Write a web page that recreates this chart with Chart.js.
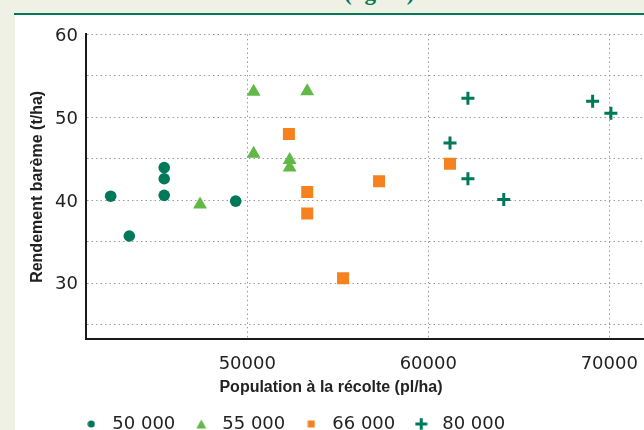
<!DOCTYPE html>
<html>
<head>
<meta charset="utf-8">
<script src="https://cdn.jsdelivr.net/npm/chart.js@4"></script>
<style>
  html, body { margin: 0; padding: 0; }
  body { width: 644px; height: 430px; overflow: hidden; background: #f0f1e5; position: relative; }
  #panel { position: absolute; left: 15px; top: 15px; width: 629px; height: 415px; background: #fff; }
  #rule { position: absolute; left: 14px; top: 13px; width: 630px; height: 2px; background: #00785a; }
  #cut { position: absolute; left: 0; top: 0; width: 644px; height: 12px; overflow: hidden; }
  #cut span { position: absolute; left: 344px; top: -20px; line-height: 24px; font: bold 23px 'Liberation Serif'; color: #00785a; white-space: nowrap; }
  #wrap { position: absolute; left: 0; top: 0; }
</style>
</head>
<body>
<div id="panel"></div>
<div id="cut"><span>(kg/ha)</span></div>
<div id="rule"></div>
<div id="wrap"><canvas id="chart-yield" width="644" height="450"></canvas></div>
<script>
// series names (target sowing density)
const seriesLabels = ['50 000', '55 000', '66 000', '80 000'];

// harvest population (pl/ha) and yield (t/ha) per series
const pop50 = [42450, 43480, 45410, 45410, 45410, 49360];
const yld50 = [40.5, 35.7, 43.95, 42.6, 40.6, 39.9];

const pop55 = [47390, 50350, 50350, 53310, 52340, 52340];
const yld55 = [39.5, 45.6, 53.1, 53.15, 44.85, 43.95];

const pop66 = [52300, 53310, 53310, 57280, 55290, 61200];
const yld66 = [48.0, 41.0, 38.4, 42.3, 30.6, 44.4];

const pop80 = [62190, 69080, 70090, 61200, 62190, 64170];
const yld80 = [52.3, 51.95, 50.5, 46.9, 42.6, 40.1];

// axis ticks
const xTicks = [50000, 60000, 70000];
const yTicks = [25, 30, 35, 40, 45, 50, 55, 60];
const yLabelled = [30, 40, 50, 60];

const teal = '#00785a';
const green = '#62b847';
const orange = '#f5821f';

function toPoints(xs, ys) {
  return xs.map((x, i) => ({ x: x, y: ys[i] }));
}

// small legend markers, each drawn at its own size
function marker(kind, color) {
  const c = document.createElement('canvas');
  const s = kind === 'cross' ? 13 : (kind === 'triangle' ? 11 : 8);
  c.width = s; c.height = s;
  const g = c.getContext('2d');
  g.fillStyle = color; g.strokeStyle = color;
  if (kind === 'circle') {
    g.beginPath(); g.arc(4, 4, 3.6, 0, Math.PI * 2); g.fill();
  } else if (kind === 'triangle') {
    g.beginPath(); g.moveTo(5.5, 1); g.lineTo(10.5, 10); g.lineTo(0.5, 10); g.closePath(); g.fill();
  } else if (kind === 'rect') {
    g.fillRect(0.5, 0.5, 7, 7);
  } else {
    g.lineWidth = 3;
    g.beginPath(); g.moveTo(0.5, 6.5); g.lineTo(12.5, 6.5); g.moveTo(6.5, 0.5); g.lineTo(6.5, 12.5); g.stroke();
  }
  return c;
}
const legendMarks = [marker('circle', teal), marker('triangle', green), marker('rect', orange), marker('cross', teal)];

// move the x title and the legend to where the original has them
const placeBoxes = {
  id: 'placeBoxes',
  afterLayout(chart) {
    const t = chart.titleBlock;
    const shift = 331 - (t.left + t.right) / 2;
    t.left += shift; t.right += shift;
    t.top = 378.2; t.bottom = t.top + t.height;
    const lg = chart.legend;
    lg.left = 65.3; lg.top = 401; lg.bottom = lg.top + lg.height;
  }
};

const tickFont = { family: 'DejaVu Sans', size: 18 };
const titleFont = { family: 'Liberation Sans', size: 16, weight: 'bold' };

new Chart(document.getElementById('chart-yield'), {
  type: 'scatter',
  data: {
    datasets: [
      { label: seriesLabels[0], data: toPoints(pop50, yld50), pointStyle: 'circle', pointRadius: 5.8,
        backgroundColor: teal, borderColor: teal, borderWidth: 0 },
      { label: seriesLabels[1], data: toPoints(pop55, yld55), pointStyle: 'triangle', pointRadius: 8,
        backgroundColor: green, borderColor: green, borderWidth: 0 },
      { label: seriesLabels[2], data: toPoints(pop66, yld66), pointStyle: 'rect', pointRadius: 8.5,
        backgroundColor: orange, borderColor: orange, borderWidth: 0 },
      { label: seriesLabels[3], data: toPoints(pop80, yld80), pointStyle: 'cross', pointRadius: 6.5,
        backgroundColor: teal, borderColor: teal, borderWidth: 3 }
    ]
  },
  options: {
    responsive: false,
    animation: false,
    layout: { autoPadding: false, padding: { left: 27.9, top: 34.4, right: 0, bottom: 13.4 } },
    scales: {
      x: {
        type: 'linear',
        min: 41088,
        max: 71919,
        afterBuildTicks: axis => { axis.ticks = xTicks.map(v => ({ value: v })); },
        ticks: { font: tickFont, color: '#222', padding: 0, maxRotation: 0, callback: v => String(v) },
        grid: { color: '#9a9a9a', lineWidth: 1, drawTicks: true, tickLength: 14.5, tickColor: 'transparent' },
        border: { color: '#1a1a1a', width: 2, dash: [1.5, 3] }
      },
      y: {
        min: 23.25,
        max: 60,
        afterBuildTicks: axis => { axis.ticks = yTicks.map(v => ({ value: v })); },
        ticks: { font: tickFont, color: '#222', padding: 8, labelOffset: 1.5,
          callback: v => yLabelled.includes(v) ? String(v) : '' },
        grid: { color: '#9a9a9a', lineWidth: 1, drawTicks: false },
        border: { color: '#1a1a1a', width: 2, dash: [1.5, 3] },
        title: { display: true, text: 'Rendement barème (t/ha)', font: titleFont, color: '#222', padding: 0 }
      }
    },
    plugins: {
      tooltip: { enabled: false },
      title: { display: true, position: 'bottom', text: 'Population à la récolte (pl/ha)',
        font: titleFont, color: '#222', padding: 0 },
      legend: {
        position: 'bottom',
        align: 'start',
        labels: {
          usePointStyle: true,
          pointStyleWidth: 24,
          padding: 14,
          font: tickFont,
          color: '#222',
          generateLabels: chart => chart.data.datasets.map((ds, i) => ({
            text: ds.label, pointStyle: legendMarks[i], fillStyle: ds.backgroundColor,
            strokeStyle: ds.borderColor, lineWidth: 0, hidden: false, datasetIndex: i, fontColor: '#222'
          }))
        }
      }
    }
  },
  plugins: [placeBoxes]
});
</script>
</body>
</html>
